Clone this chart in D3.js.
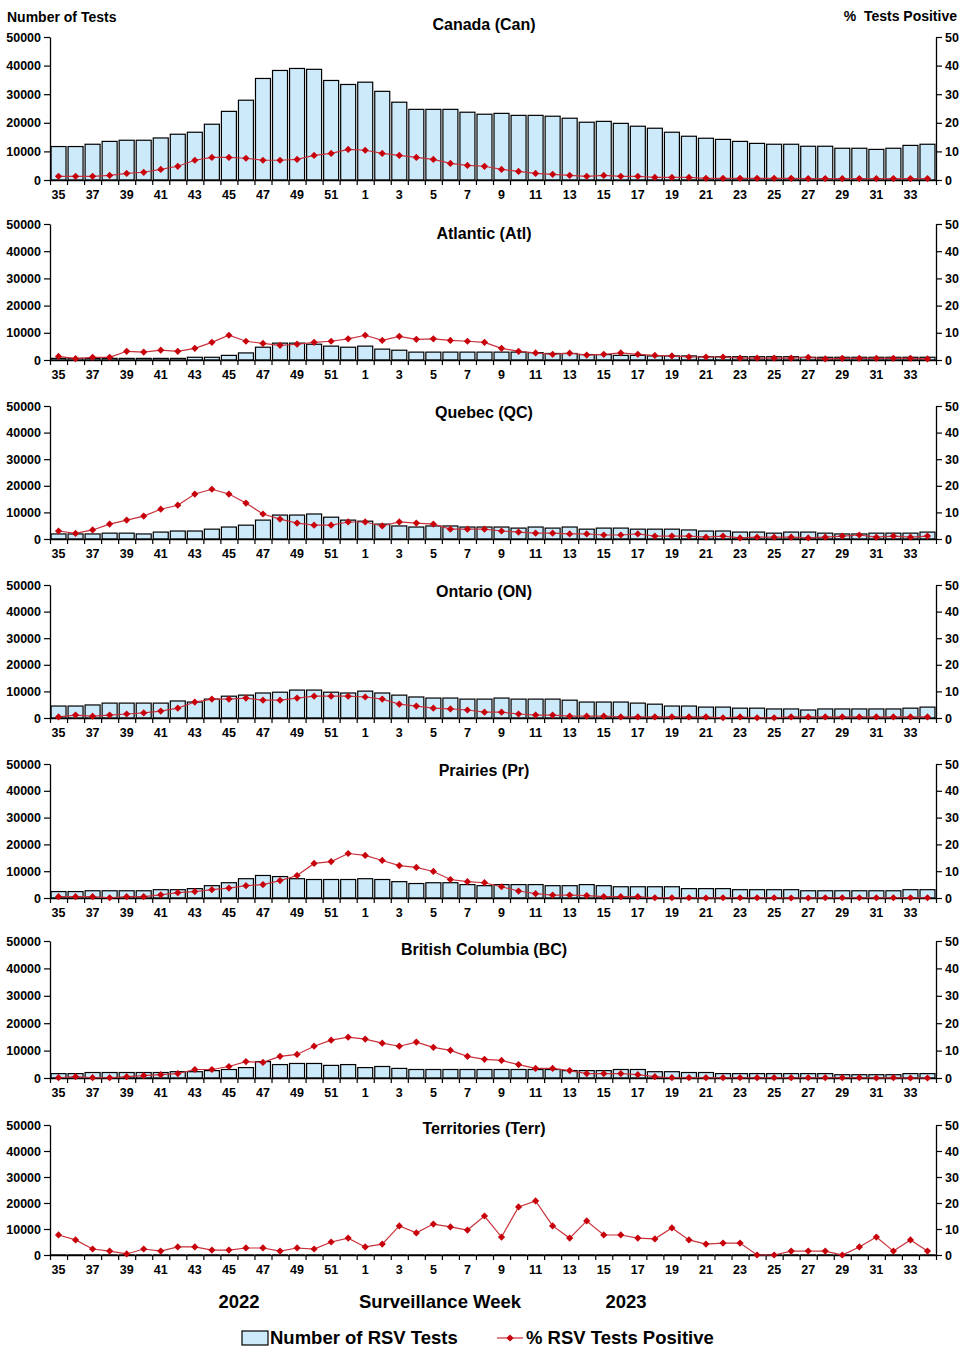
<!DOCTYPE html>
<html><head><meta charset="utf-8">
<script src="https://cdn.jsdelivr.net/npm/d3@7"></script>
<style>
body{margin:0;background:#fff;}
svg{font-family:"Liberation Sans",Arial,sans-serif;font-weight:bold;}
</style></head>
<body>
<svg id="chart" width="967" height="1356"></svg>
<script>
// ---- categories ----
const weeks = [35,36,37,38,39,40,41,42,43,44,45,46,47,48,49,50,51,52,1,2,3,4,5,6,7,8,9,10,11,12,13,14,15,16,17,18,19,20,21,22,23,24,25,26,27,28,29,30,31,32,33,34];
const tickWeeks = [35,37,39,41,43,45,47,49,51,1,3,5,7,9,11,13,15,17,19,21,23,25,27,29,31,33];
const leftTicks = [0,10000,20000,30000,40000,50000];
const rightTicks = [0,10,20,30,40,50];
const titles = ["Canada (Can)","Atlantic (Atl)","Quebec (QC)","Ontario (ON)","Prairies (Pr)","British Columbia (BC)","Territories (Terr)"];

// ---- series: number of tests ----
const canTests = [11700,11700,12500,13500,13900,13900,14700,16000,16700,19500,24000,27900,35500,38300,39000,38700,34800,33400,34200,31000,27200,24700,24700,24700,23700,23000,23300,22600,22600,22300,21600,20200,20500,19800,18800,18100,16700,15300,14600,14200,13500,12800,12500,12500,11800,11800,11100,11100,10700,11100,12100,12500];
const atlTests = [600,600,600,600,600,600,600,600,1000,1000,1700,2600,4700,6200,6200,5800,5100,4700,5100,4000,3600,2900,2900,2900,2900,2900,2900,2900,2700,2400,2400,2000,2000,1700,1700,1500,1500,1500,1200,1200,1200,1200,1200,1200,1000,1000,1000,1000,1000,1000,1000,1000];
const qcTests = [1900,1900,1900,2200,2200,1900,2600,3000,3000,3700,4500,5200,7100,9000,9000,9400,8200,7100,6700,5600,4900,4500,4900,4900,4500,4500,4500,4100,4500,4100,4500,3700,4100,4100,3700,3700,3700,3400,3000,3000,2600,2600,2200,2600,2600,2200,1900,1900,2200,2200,2200,2600];
const onTests = [4500,4500,4900,5600,5600,5600,5600,6400,6000,7100,8200,8600,9400,9700,10500,10500,9700,9400,10100,9400,8600,7900,7500,7500,7100,7100,7500,7100,7100,7100,6700,6000,6000,6000,5600,5200,4500,4500,4100,4100,3700,3700,3400,3400,3000,3400,3400,3400,3400,3400,3700,4100];
const prTests = [2400,2400,2700,2700,2700,2700,3100,3100,3500,4600,5700,7200,8400,8000,7200,6900,6900,6900,7200,6900,6100,5400,5700,5700,5000,4600,5000,5000,5000,4600,4600,5000,4600,4200,4200,4200,4200,3500,3500,3500,3100,3100,3100,3100,2700,2700,2700,2700,2700,2700,3100,3100];
const bcTests = [1600,1600,2000,2000,2000,2000,2000,2300,2300,2700,3100,3800,6000,4900,5300,5300,4600,4900,3800,4200,3500,3100,3100,3100,3100,3100,3100,3100,3100,3100,2700,2700,2700,3100,3100,2300,2300,2000,2000,1600,1600,1600,1600,1600,1600,1600,1200,1200,1200,1200,1600,1600];
const terrTests = [40,40,40,40,40,40,40,40,40,40,40,40,40,40,40,40,40,40,40,40,40,40,40,40,40,40,40,40,40,40,40,40,40,40,40,40,40,40,40,40,40,40,40,40,40,40,40,40,40,40,40,40];

// ---- series: % tests positive ----
const canPct = [1.3,1.3,1.3,1.6,2.3,2.7,3.7,4.8,6.9,7.9,7.9,7.6,6.9,6.9,7.2,8.6,9.3,10.7,10.4,9.3,8.6,7.9,7.2,5.8,5.1,4.8,3.7,3.0,2.3,2.0,1.6,1.3,1.6,1.3,1.3,0.9,0.9,0.9,0.6,0.6,0.6,0.6,0.6,0.6,0.5,0.5,0.5,0.5,0.5,0.5,0.5,0.5];
const atlPct = [1.3,0.5,1.0,1.0,3.2,2.9,3.6,3.2,4.3,6.5,9.1,6.9,6.1,5.4,5.8,6.5,6.9,7.8,9.1,7.2,8.7,7.6,7.8,7.2,6.9,6.5,4.3,3.2,2.6,2.1,2.5,1.8,2.1,2.6,2.1,1.7,1.5,1.1,1.1,1.1,0.7,0.7,0.7,0.7,1.0,0.4,0.6,0.6,0.6,0.6,0.6,0.4];
const qcPct = [3.0,2.1,3.4,5.6,7.1,8.6,11.2,12.7,16.9,18.7,16.9,13.5,9.4,7.5,6.0,5.2,5.2,6.4,6.4,4.9,6.4,6.0,5.6,3.7,3.7,3.7,3.0,2.6,2.2,2.2,1.9,1.9,1.5,1.5,1.9,1.1,1.1,1.1,0.7,1.1,0.4,0.7,0.7,0.7,0.4,0.7,1.1,1.5,0.7,1.1,0.7,1.1];
const onPct = [0.4,1.1,0.7,1.1,1.5,1.9,2.6,3.7,6.0,7.1,7.1,7.5,6.7,6.7,7.5,8.2,8.2,8.2,7.9,7.1,5.2,4.5,3.7,3.4,3.0,2.2,2.2,1.5,1.1,1.1,0.7,0.7,0.7,0.4,0.4,0.4,0.4,0.4,0.4,0.1,0.4,0.1,0.1,0.4,0.4,0.4,0.4,0.4,0.4,0.4,0.4,0.4];
const prPct = [0.5,0.5,0.5,0.1,0.5,0.5,1.2,2.0,2.4,3.1,3.7,4.6,5.0,6.5,8.4,12.9,13.6,16.6,15.9,14.0,12.1,11.4,9.9,6.9,6.1,5.7,4.2,2.6,1.6,1.1,1.1,0.9,0.5,0.5,0.5,0.1,0.1,0.1,0.0,0.1,0.1,0.1,0.1,0.0,0.0,0.1,0.1,0.1,0.1,0.1,0.1,0.1];
const bcPct = [0.1,0.5,0.1,0.1,0.5,0.9,1.2,1.6,3.1,3.1,4.2,6.0,5.7,7.9,8.6,11.6,13.8,14.9,14.2,12.7,11.6,13.1,11.2,10.1,7.9,6.8,6.4,4.9,3.5,3.5,2.7,1.6,1.6,1.6,1.2,0.5,0.1,0.1,0.1,0.1,0.1,0.1,0.1,0.1,0.1,0.1,0.1,0.1,0.0,0.1,0.0,0.0];
const terrPct = [7.7,5.8,2.3,1.5,0.4,2.3,1.5,3.1,3.1,1.9,1.9,2.7,2.7,1.5,2.7,2.3,5.0,6.5,3.1,4.2,11.2,8.5,11.9,10.8,9.6,15.0,6.9,18.5,20.8,11.2,6.5,13.1,7.7,7.7,6.5,6.2,10.4,5.8,4.2,4.6,4.6,0.0,0.0,1.5,1.5,1.5,0.0,3.1,6.9,1.5,5.8,1.5];

const testsSeries = [canTests, atlTests, qcTests, onTests, prTests, bcTests, terrTests];
const pctSeries = [canPct, atlPct, qcPct, onPct, prPct, bcPct, terrPct];

// ---- layout (pixels) ----
const X0 = 50, X1 = 936;
const panelLayout = [
  {top:37, bottom:180, titleY:24},
  {top:224, bottom:360, titleY:233},
  {top:406, bottom:539, titleY:412},
  {top:585, bottom:718, titleY:591},
  {top:764, bottom:898, titleY:770},
  {top:941, bottom:1078, titleY:949},
  {top:1125, bottom:1255, titleY:1128}
];
const BAR_FILL = "#cdeafb";
const RED = "#c8000a";
const LINE_RED = "#c8303a";

const svg = d3.select("#chart");
const x = d3.scaleBand().domain(weeks.map((w,i)=>i)).range([X0, X1]).paddingInner(0.12).paddingOuter(0.06);
const xEdges = d3.scaleLinear().domain([0, weeks.length]).range([X0, X1]);
const diamond = d3.symbol().type(d3.symbolSquare).size(26);

function styleAxis(g){
  g.selectAll("path.domain").attr("stroke","#000").attr("stroke-width",1.3);
  g.selectAll(".tick line").attr("stroke","#000").attr("stroke-width",1.2);
  g.selectAll("text").attr("fill","#000").style("font-size","12.5px").style("font-weight","bold")
    .style("font-family","'Liberation Sans',Arial,sans-serif");
}

panelLayout.forEach((L, p) => {
  const g = svg.append("g");
  const yL = d3.scaleLinear().domain([0, 50000]).range([L.bottom, L.top]);
  const yR = d3.scaleLinear().domain([0, 50]).range([L.bottom, L.top]);
  const tests = testsSeries[p], pct = pctSeries[p];

  // bars
  g.append("g").selectAll("rect").data(tests).join("rect")
    .attr("x", (d,i) => x(i))
    .attr("width", x.bandwidth())
    .attr("y", d => yL(d))
    .attr("height", d => yL(0) - yL(d))
    .attr("fill", BAR_FILL)
    .attr("stroke", "#000")
    .attr("stroke-width", 1.2);

  // left axis
  g.append("g").attr("transform", `translate(${X0},0)`)
    .call(d3.axisLeft(yL).tickValues(leftTicks).tickFormat(d3.format("d")).tickSizeInner(6).tickSizeOuter(0).tickPadding(3))
    .call(styleAxis);
  // right axis
  g.append("g").attr("transform", `translate(${X1},0)`)
    .call(d3.axisRight(yR).tickValues(rightTicks).tickSizeInner(6).tickSizeOuter(0).tickPadding(3))
    .call(styleAxis);

  // bottom axis: tick marks at week boundaries
  g.append("g").attr("transform", `translate(0,${L.bottom})`)
    .call(d3.axisBottom(xEdges).tickValues(d3.range(weeks.length + 1)).tickFormat("").tickSizeInner(5).tickSizeOuter(0))
    .call(styleAxis);
  // bottom axis labels centered on bars
  const xLab = d3.scaleBand().domain(weeks).range([X0, X1]);
  g.append("g").attr("transform", `translate(0,${L.bottom})`)
    .call(d3.axisBottom(xLab).tickValues(tickWeeks).tickSize(0).tickPadding(10))
    .call(g2 => g2.select("path.domain").remove())
    .call(styleAxis);

  // line + markers
  const line = d3.line().x((d,i) => x(i) + x.bandwidth()/2).y(d => yR(d));
  g.append("path").datum(pct).attr("d", line).attr("fill","none").attr("stroke", LINE_RED).attr("stroke-width", 1.2);
  g.append("g").selectAll("path").data(pct).join("path")
    .attr("d", diamond)
    .attr("transform", (d,i) => `translate(${x(i) + x.bandwidth()/2},${yR(d)}) rotate(45)`)
    .attr("fill", RED);

  // title
  g.append("text").attr("x", 484).attr("y", L.titleY).attr("dy", "0.35em")
    .attr("text-anchor","middle").style("font-size","16px").text(titles[p]);
});

// axis titles
svg.append("text").attr("x", 7).attr("y", 22).style("font-size","14px").text("Number of Tests");
svg.append("text").attr("x", 957).attr("y", 21).attr("text-anchor","end").style("font-size","14px")
  .style("white-space","pre").text("%  Tests Positive");

// bottom labels
svg.append("text").attr("x", 239).attr("y", 1302).attr("dy","0.35em").attr("text-anchor","middle").style("font-size","18.5px").text("2022");
svg.append("text").attr("x", 440).attr("y", 1302).attr("dy","0.35em").attr("text-anchor","middle").style("font-size","18.5px").text("Surveillance Week");
svg.append("text").attr("x", 626).attr("y", 1302).attr("dy","0.35em").attr("text-anchor","middle").style("font-size","18.5px").text("2023");

// legend
const leg = svg.append("g");
leg.append("rect").attr("x", 242).attr("y", 1331).attr("width", 26).attr("height", 14)
  .attr("fill", BAR_FILL).attr("stroke", "#000").attr("stroke-width", 1.2);
leg.append("text").attr("x", 270).attr("y", 1338).attr("dy","0.35em").style("font-size","18.5px").text("Number of RSV Tests");
leg.append("line").attr("x1", 497).attr("x2", 523).attr("y1", 1338).attr("y2", 1338).attr("stroke", LINE_RED).attr("stroke-width", 1.2);
leg.append("path").attr("d", diamond).attr("transform", "translate(510,1338) rotate(45)").attr("fill", RED);
leg.append("text").attr("x", 526).attr("y", 1338).attr("dy","0.35em").style("font-size","18.5px").text("% RSV Tests Positive");
</script>
</body></html>
